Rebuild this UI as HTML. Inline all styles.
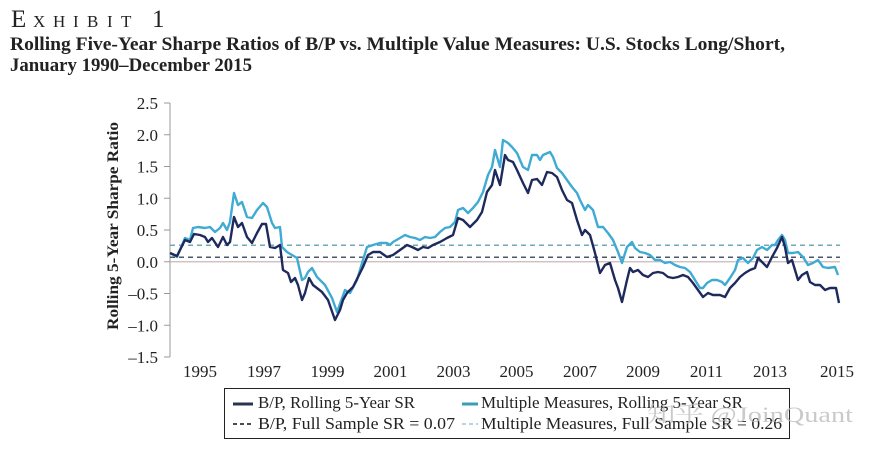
<!DOCTYPE html>
<html>
<head>
<meta charset="utf-8">
<style>
html,body{margin:0;padding:0;background:#fff;}
svg{display:block;}
text{font-family:"Liberation Serif","Noto Serif CJK SC",serif;}
</style>
</head>
<body>
<svg width="877" height="451" viewBox="0 0 877 451" xmlns="http://www.w3.org/2000/svg">
<rect width="877" height="451" fill="#fff"/>
<!-- Title -->
<g fill="#222" font-family="Liberation Serif, serif">
<text x="11" y="27" font-size="25">E</text>
<text x="33" y="27" font-size="17">X</text>
<text x="53" y="27" font-size="17">H</text>
<text x="73" y="27" font-size="17">I</text>
<text x="87" y="27" font-size="17">B</text>
<text x="107" y="27" font-size="17">I</text>
<text x="121" y="27" font-size="17">T</text>
<text x="152" y="27" font-size="25">1</text>
<text x="10" y="50" font-size="19" font-weight="bold" textLength="775" lengthAdjust="spacingAndGlyphs">Rolling Five-Year Sharpe Ratios of B/P vs. Multiple Value Measures: U.S. Stocks Long/Short,</text>
<text x="10" y="71" font-size="19" font-weight="bold" textLength="242" lengthAdjust="spacingAndGlyphs">January 1990–December 2015</text>
</g>
<!-- Y axis -->
<line x1="170" y1="103" x2="170" y2="357" stroke="#9a9a9a" stroke-width="1"/>
<g stroke="#9a9a9a" stroke-width="1">
<line x1="164" y1="103" x2="170" y2="103"/>
<line x1="164" y1="134.75" x2="170" y2="134.75"/>
<line x1="164" y1="166.5" x2="170" y2="166.5"/>
<line x1="164" y1="198.25" x2="170" y2="198.25"/>
<line x1="164" y1="230" x2="170" y2="230"/>
<line x1="164" y1="261.75" x2="170" y2="261.75"/>
<line x1="164" y1="293.5" x2="170" y2="293.5"/>
<line x1="164" y1="325.25" x2="170" y2="325.25"/>
<line x1="164" y1="357" x2="170" y2="357"/>
</g>
<g fill="#222" font-size="17" text-anchor="end">
<text x="158" y="109">2.5</text>
<text x="158" y="140.75">2.0</text>
<text x="158" y="172.5">1.5</text>
<text x="158" y="204.25">1.0</text>
<text x="158" y="236">0.5</text>
<text x="158" y="267.75">0.0</text>
<text x="158" y="299.5">–0.5</text>
<text x="158" y="331.25">–1.0</text>
<text x="158" y="363">–1.5</text>
</g>
<text transform="translate(118,226) rotate(-90)" text-anchor="middle" font-size="16" font-weight="bold" fill="#222" textLength="208" lengthAdjust="spacingAndGlyphs">Rolling 5-Year Sharpe Ratio</text>
<!-- X labels -->
<g fill="#222" font-size="17" text-anchor="middle">
<text x="200" y="377">1995</text>
<text x="264" y="377">1997</text>
<text x="327.5" y="377">1999</text>
<text x="390.5" y="377">2001</text>
<text x="453.5" y="377">2003</text>
<text x="516.5" y="377">2005</text>
<text x="580" y="377">2007</text>
<text x="643" y="377">2009</text>
<text x="706.5" y="377">2011</text>
<text x="770" y="377">2013</text>
<text x="837" y="377">2015</text>
</g>
<!-- reference lines -->
<line x1="170" y1="261.75" x2="840" y2="261.75" stroke="#c8b9b9" stroke-width="1.3"/>
<line x1="170" y1="257.3" x2="840" y2="257.3" stroke="#50566a" stroke-width="1.5" stroke-dasharray="5,4"/>
<line x1="170" y1="245.2" x2="840" y2="245.2" stroke="#6fa9b5" stroke-width="1.5" stroke-dasharray="5,4"/>
<!-- series: multiple measures -->
<polyline fill="none" stroke="#3fabd3" stroke-width="2.4" stroke-linejoin="round" points="170,253 177,257 185,238 190,240 193,228 198,227 205,228 210,227 215,232 220,228 223,223 227,230 230,222 234,193 238,205 242,202 247,217 252,218 257,210 263,203 267,207 272,223 275,228 280,227 282,247 287,252 292,255 297,258 302,280 305,278 308,272 312,268 317,277 325,285 332,298 337,312 345,290 350,293 357,280 363,260 367,247 373,245 380,243 387,243 390,245 393,242 400,238 405,235 410,237 415,238 420,240 425,237 430,238 435,237 440,232 445,228 450,227 455,222 458,210 463,208 468,213 473,208 478,202 483,192 488,175 492,167 495,150 500,167 503,140 508,143 512,147 517,153 523,167 528,170 532,155 537,155 540,160 543,155 550,152 553,157 557,168 562,173 567,180 572,187 577,193 580,200 585,210 588,205 593,210 598,227 603,227 608,233 613,240 618,252 622,263 627,247 632,242 635,248 640,252 645,253 650,255 655,260 660,260 665,263 670,262 675,265 680,267 685,268 690,272 695,280 700,288 703,288 707,283 712,280 717,280 722,282 725,285 730,278 735,270 738,260 743,258 748,263 753,258 757,250 762,247 767,250 772,245 775,245 778,240 782,235 785,240 788,253 793,253 798,252 803,257 808,265 813,263 818,260 823,267 828,268 835,267 838,275"/>
<!-- series: B/P -->
<polyline fill="none" stroke="#1f2a5c" stroke-width="2.4" stroke-linejoin="round" points="170,253 177,256 185,240 190,242 194,234 200,235 205,237 208,242 212,238 218,247 223,237 227,245 230,242 234,217 238,227 242,223 247,237 252,243 257,233 262,224 266,224 270,247 275,248 280,245 283,270 288,273 291,282 295,278 298,285 302,300 305,293 309,278 313,285 322,292 328,300 335,320 340,310 343,300 347,293 353,287 363,267 368,255 373,252 380,252 387,257 393,255 400,250 407,245 412,247 418,250 423,247 428,248 433,245 440,242 447,238 453,235 458,218 463,220 470,227 477,220 482,212 487,192 492,185 495,170 500,185 505,155 508,160 513,162 517,170 523,183 528,193 532,180 537,179 542,185 547,172 552,173 557,177 562,190 567,200 572,203 577,220 582,235 585,230 590,235 595,253 600,273 605,265 610,263 615,280 618,288 622,302 627,280 630,268 633,272 638,270 643,275 648,277 653,273 658,272 663,273 668,277 673,278 678,277 683,275 688,277 693,283 698,290 703,297 708,293 713,295 720,295 725,297 730,288 735,283 740,277 745,273 750,270 755,268 758,258 763,263 767,267 772,257 777,248 782,237 785,247 788,263 792,260 795,270 798,280 802,275 807,272 810,282 815,285 820,285 825,290 830,288 836,288 839,303"/>
<!-- Legend -->
<rect x="224.5" y="388.5" width="565" height="50" fill="none" stroke="#222" stroke-width="1"/>
<line x1="233" y1="404" x2="253" y2="404" stroke="#2a3450" stroke-width="3"/>
<line x1="462" y1="404" x2="478" y2="404" stroke="#3a9fb3" stroke-width="3"/>
<line x1="233" y1="424" x2="253" y2="424" stroke="#333" stroke-width="1.8" stroke-dasharray="4,3"/>
<line x1="462" y1="424" x2="478" y2="424" stroke="#a9cfd6" stroke-width="1.8" stroke-dasharray="4,3"/>
<g fill="#222" font-size="17">
<text x="258" y="408" textLength="157" lengthAdjust="spacingAndGlyphs">B/P, Rolling 5-Year SR</text>
<text x="258" y="429" textLength="197" lengthAdjust="spacingAndGlyphs">B/P, Full Sample SR = 0.07</text>
<text x="481" y="408" textLength="262" lengthAdjust="spacingAndGlyphs">Multiple Measures, Rolling 5-Year SR</text>
<text x="481" y="429" textLength="301" lengthAdjust="spacingAndGlyphs">Multiple Measures, Full Sample SR = 0.26</text>
</g>
<!-- watermark -->
<text x="647" y="422" font-family="Liberation Sans, Noto Sans CJK SC, sans-serif" font-size="22" fill="#bdbdbd" fill-opacity="0.8" textLength="206" lengthAdjust="spacingAndGlyphs">知乎 @JoinQuant</text>
</svg>
</body>
</html>
